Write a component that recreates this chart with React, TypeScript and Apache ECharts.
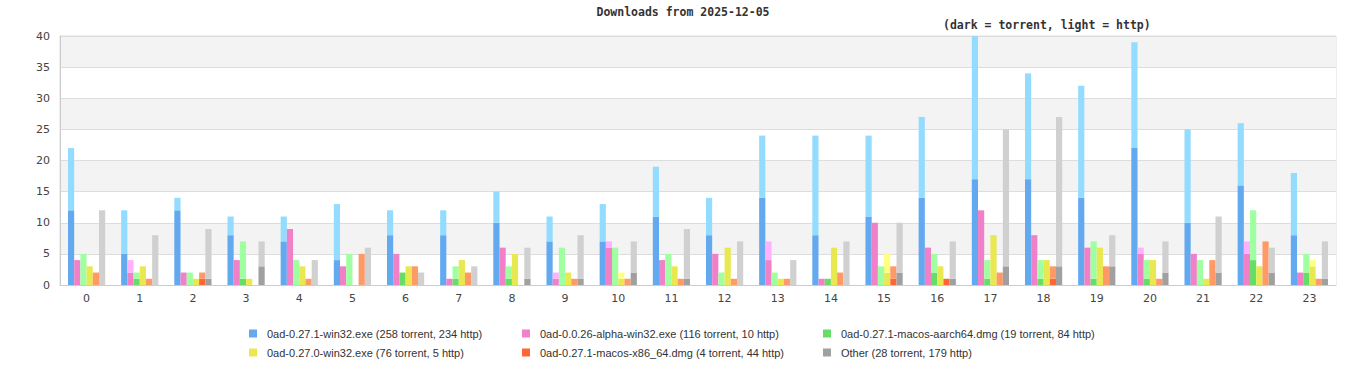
import React, { useEffect, useRef } from "react";
import * as echarts from "echarts";

const hours = ["0","1","2","3","4","5","6","7","8","9","10","11","12","13","14","15","16","17","18","19","20","21","22","23"];

const fileNames = [
  "0ad-0.27.1-win32.exe",
  "0ad-0.0.26-alpha-win32.exe",
  "0ad-0.27.1-macos-aarch64.dmg",
  "0ad-0.27.0-win32.exe",
  "0ad-0.27.1-macos-x86_64.dmg",
  "Other",
];

const win32Torrent = [12,5,12,8,7,4,8,8,10,7,7,11,8,14,8,11,14,17,17,14,22,10,16,8];
const win32Http = [10,7,2,3,4,9,4,4,5,4,6,8,6,10,16,13,13,23,17,18,17,15,10,10];
const alphaTorrent = [4,2,2,4,9,3,5,1,6,1,6,4,5,4,1,10,6,12,8,6,5,5,5,2];
const alphaHttp = [0,2,0,0,0,0,0,0,0,1,1,0,0,3,0,0,0,0,0,0,1,0,2,0];
const aarchTorrent = [0,1,0,1,0,0,2,1,1,0,0,0,0,0,1,0,2,1,1,1,1,0,4,2];
const aarchHttp = [5,1,2,6,4,5,0,2,2,6,6,5,2,2,0,3,3,3,3,6,3,4,8,3];
const win270Torrent = [3,3,1,1,3,0,3,4,5,2,1,3,6,1,6,2,3,8,4,6,4,1,3,3];
const win270Http = [0,0,0,0,0,0,0,0,0,0,1,0,0,0,0,3,0,0,0,0,0,0,0,1];
const x86Torrent = [0,0,1,0,0,0,0,0,0,0,0,0,0,0,0,1,1,0,1,0,0,0,0,0];
const x86Http = [2,1,1,0,1,5,3,2,0,1,1,1,1,1,2,2,0,2,2,3,1,4,7,1];
const otherTorrent = [0,0,1,3,0,0,0,0,1,1,2,1,0,0,0,2,1,3,3,3,2,2,2,1];
const otherHttp = [12,8,8,4,4,6,2,3,5,7,5,8,7,4,7,8,6,22,24,5,5,9,4,6];

const torrentData = [win32Torrent, alphaTorrent, aarchTorrent, win270Torrent, x86Torrent, otherTorrent];
const httpData = [win32Http, alphaHttp, aarchHttp, win270Http, x86Http, otherHttp];

const darkColors = ["#62a9f0", "#f080c8", "#66dd66", "#e8e850", "#ff6633", "#a0a0a0"];
const lightColors = ["#94dcff", "#ffb0ff", "#a0ffa0", "#ffff80", "#ff9966", "#d0d0d0"];

const sum = (a: number[]) => a.reduce((s, v) => s + v, 0);

export default function App() {
  const ref = useRef<HTMLDivElement>(null);
  useEffect(() => {
    document.body.style.margin = "0";
    if (!ref.current) return;
    const chart = echarts.init(ref.current, null, { renderer: "svg" });
    const labels = fileNames.map(
      (n, i) => `${n} (${sum(torrentData[i])} torrent, ${sum(httpData[i])} http)`
    );
    const series: any[] = [];
    fileNames.forEach((n, i) => {
      series.push({
        name: labels[i],
        type: "bar",
        stack: "s" + i,
        data: torrentData[i],
        itemStyle: { color: darkColors[i] },
        barGap: "0%",
        barCategoryGap: "30%",
      });
      series.push({
        name: n + " http",
        type: "bar",
        stack: "s" + i,
        data: httpData[i],
        itemStyle: { color: lightColors[i] },
        barGap: "0%",
        barCategoryGap: "30%",
      });
    });
    const legendPos = [
      [249, 328],
      [522, 328],
      [823, 328],
      [249, 347],
      [522, 347],
      [823, 347],
    ];
    const legends = labels.map((l, i) => ({
      data: [l],
      left: legendPos[i][0],
      top: legendPos[i][1],
      padding: 0,
      icon: "rect",
      itemWidth: 8,
      itemHeight: 8,
      selectedMode: false,
      textStyle: {
        fontFamily: "Liberation Sans",
        fontSize: 11,
        color: "#333",
        padding: [0, 0, 0, 5],
      },
    }));
    const titleFont = {
      fontFamily: "DejaVu Sans Mono",
      fontWeight: "bold" as const,
      fontSize: 11.5,
      color: "#333",
    };
    chart.setOption({
      animation: false,
      title: [
        { text: "Downloads from 2025-12-05", left: "center", top: 6, padding: 0, textStyle: titleFont },
        { text: "(dark = torrent, light = http)", left: 943, top: 19, padding: 0, textStyle: titleFont },
      ],
      legend: legends,
      grid: {
        left: 60,
        right: 30,
        top: 36,
        bottom: 95,
        show: true,
        borderColor: "#dddddd",
        borderWidth: 1,
        backgroundColor: "transparent",
      },
      xAxis: {
        type: "category",
        data: hours,
        axisTick: { show: false },
        axisLine: { lineStyle: { color: "#cccccc" } },
        axisLabel: { color: "#444", fontSize: 11, fontFamily: "DejaVu Sans", margin: 8 },
      },
      yAxis: {
        type: "value",
        min: 0,
        max: 40,
        interval: 5,
        axisLine: { show: true, lineStyle: { color: "#cccccc" } },
        axisTick: { show: false },
        axisLabel: { color: "#444", fontSize: 11, fontFamily: "DejaVu Sans", margin: 10 },
        splitLine: { lineStyle: { color: "#dddddd" } },
        splitArea: { show: true, areaStyle: { color: ["#ffffff", "#f3f3f3"] } },
      },
      series,
    });
    return () => chart.dispose();
  }, []);
  return <div ref={ref} style={{ width: 1366, height: 380 }} />;
}
